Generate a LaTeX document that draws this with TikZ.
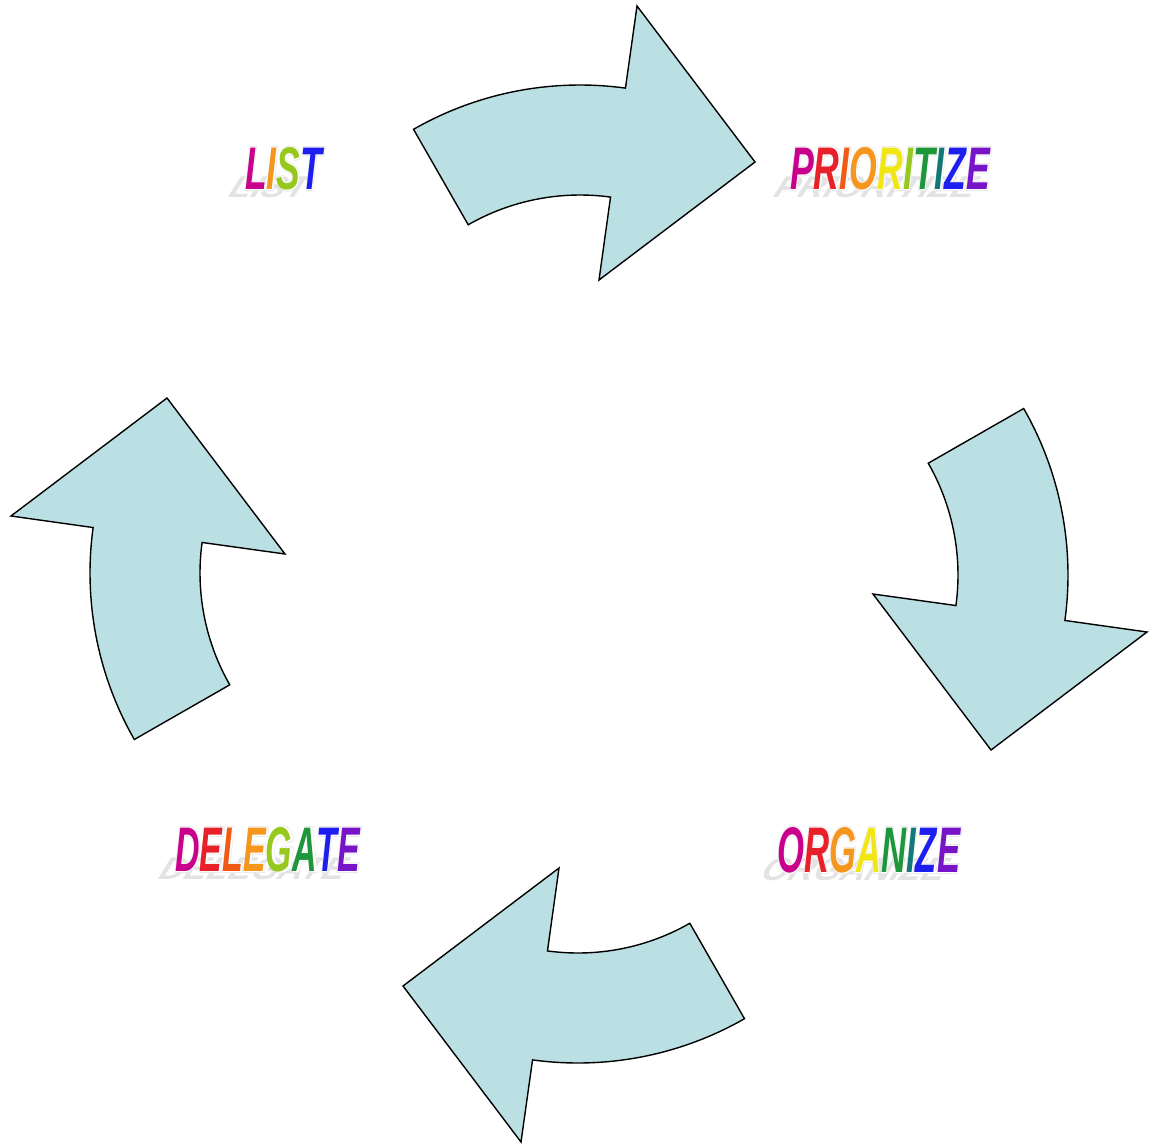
\documentclass[tikz,border=0pt]{standalone}
\usepackage{fontspec}
\usepackage{graphicx}
\newfontfamily\wafont{Liberation Sans}
\newfontfamily\waglow[FakeBold=6]{Liberation Sans}
\newfontfamily\wawhite[FakeBold=3]{Liberation Sans}
\usetikzlibrary{calc}
\definecolor{arrowfill}{HTML}{BBE0E3}
\definecolor{rbA}{HTML}{C8008C}
\definecolor{rbB}{HTML}{E8202A}
\definecolor{rbC}{HTML}{F05A14}
\definecolor{rbD}{HTML}{F5961E}
\definecolor{rbE}{HTML}{F0E614}
\definecolor{rbF}{HTML}{96C81E}
\definecolor{rbG}{HTML}{1E963C}
\definecolor{rbH}{HTML}{147878}
\definecolor{rbI}{HTML}{1E1EF0}
\definecolor{rbJ}{HTML}{7814C8}
\newcommand\wordart[7]{%
  \begin{scope}[shift={(#2-18,-#3-8)}, xslant=0.4, yscale=0.5]
    \node[inner sep=0, anchor=south west, transform shape, text=gray!22] {\resizebox{#4pt}{#5pt}{\wafont\bfseries\itshape #6}};
  \end{scope}
  \node[inner sep=0, anchor=south west, text=gray!18] at (#2,-#3) {\resizebox{#4pt}{#5pt}{\waglow\bfseries\itshape #6}};
  \node[inner sep=0, anchor=south west, text=white] at (#2,-#3) {\resizebox{#4pt}{#5pt}{\wawhite\bfseries\itshape #6}};
  \node[inner sep=0, anchor=south west] (#1) at (#2,-#3) {\resizebox{#4pt}{#5pt}{\wafont\bfseries\itshape #7}};
}
\begin{document}
\begin{tikzpicture}[x=1pt,y=1pt,
  cyclearrow/.style={fill=arrowfill, draw=black, line width=1.4pt, line join=miter}]
\useasboundingbox (0,0) rectangle (1158,-1145);
\foreach \r in {0,-90,-180,-270}{
  \begin{scope}[rotate around={\r:(579,-574)}]
    \draw[cyclearrow] (580,-420) ++(119.8:335) arc[start angle=119.8,end angle=82.2,radius=335pt]
      -- (637,-6) -- (755,-162) -- (599,-280)
      -- ($(580,-420)+(82.2:225)$) arc[start angle=82.2,end angle=119.8,radius=225pt] -- cycle;
  \end{scope}
}
\wordart{list}{245}{190}{77}{42}{LIST}{\textcolor{rbA}{L}\textcolor{rbD}{I}\textcolor{rbF}{S}\textcolor{rbI}{T}}
\wordart{prioritize}{790}{190}{200}{42}{PRIORITIZE}{\textcolor{rbA}{P}\textcolor{rbB}{R}\textcolor{rbC}{I}\textcolor{rbD}{O}\textcolor{rbE}{R}\textcolor{rbF}{I}\textcolor{rbG}{T}\textcolor{rbH}{I}\textcolor{rbI}{Z}\textcolor{rbJ}{E}}
\wordart{delegate}{175}{872}{185}{44}{DELEGATE}{\textcolor{rbA}{D}\textcolor{rbB}{E}\textcolor{rbC}{L}\textcolor{rbD}{E}\textcolor{rbF}{G}\textcolor{rbG}{A}\textcolor{rbI}{T}\textcolor{rbJ}{E}}
\wordart{organize}{777}{873}{183}{45}{ORGANIZE}{\textcolor{rbA}{O}\textcolor{rbB}{R}\textcolor{rbD}{G}\textcolor{rbE}{A}\textcolor{rbG}{N}\textcolor{rbH}{I}\textcolor{rbI}{Z}\textcolor{rbJ}{E}}
\end{tikzpicture}
\end{document}
